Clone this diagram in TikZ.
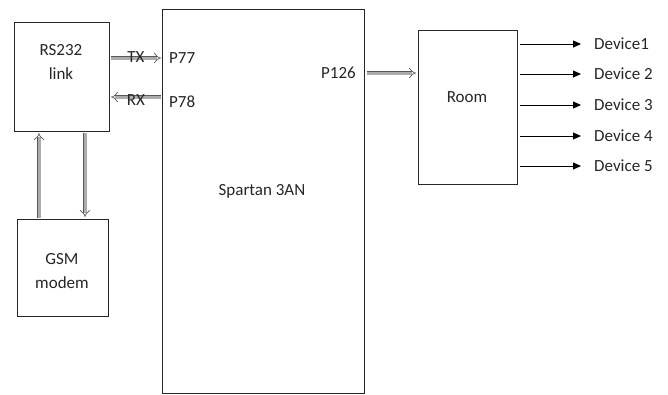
\documentclass[tikz,border=0pt]{standalone}
\usepackage{fontspec}
\setmainfont{Carlito}
\usetikzlibrary{arrows.meta}
\begin{document}
\begin{tikzpicture}[x=1pt,y=-1pt,
  blk/.style={draw=black!85, line width=0.9pt},
  lbl/.style={font=\fontsize{17}{24}\selectfont, text=black!85, inner sep=0pt},
  fat/.style={draw=black!65, line width=0.7pt, double=gray!65, double distance=3pt, -{Implies}},
  thin/.style={draw=black, line width=0.8pt, -{Triangle[length=8pt,width=7pt]}}]
\useasboundingbox (0,0) rectangle (668,394);
% blocks
\draw[blk] (14,22) rectangle (109,131);
\node[lbl, align=center] (rs) at (61,62) {RS232\\link};
\draw[blk] (17,219) rectangle (108,316);
\node[lbl, align=center] (gsm) at (62,271) {GSM\\modem};
\draw[blk] (162,9) rectangle (364,393);
\node[lbl] (sp) at (262,191) {Spartan 3AN};
\draw[blk] (418,30) rectangle (517,184);
\node[lbl] (room) at (467,97) {Room};
% pin labels
\node[lbl, anchor=west] (p77) at (169,58) {P77};
\node[lbl, anchor=west] (p78) at (169,102) {P78};
\node[lbl, anchor=east] (p126) at (356,73) {P126};
% connector endpoints
\coordinate (txs) at (111,58); \coordinate (txe) at (161,58);
\coordinate (rxs) at (161,97); \coordinate (rxe) at (111,97);
\coordinate (ups) at (39,218); \coordinate (upe) at (39,133);
\coordinate (dns) at (85,133); \coordinate (dne) at (85,217);
\coordinate (ps) at (367,73); \coordinate (pe) at (416,73);
\draw[fat] (txs) -- (txe);
\draw[fat] (rxs) -- (rxe);
\draw[fat] (ups) -- (upe);
\draw[fat] (dns) -- (dne);
\draw[fat] (ps) -- (pe);
\node[lbl] (tx) at (136,57) {TX};
\node[lbl] (rx) at (136,100) {RX};
% devices
\foreach \i/\y/\t in {1/44/Device1,2/74/Device 2,3/105/Device 3,4/136/Device 4,5/166/Device 5}{
  \coordinate (ds\i) at (520,\y);
  \coordinate (de\i) at (581,\y);
  \draw[thin] (ds\i) -- (de\i);
  \node[lbl, anchor=west] (dev\i) at (594,\y) {\t};
}
\end{tikzpicture}
\end{document}
